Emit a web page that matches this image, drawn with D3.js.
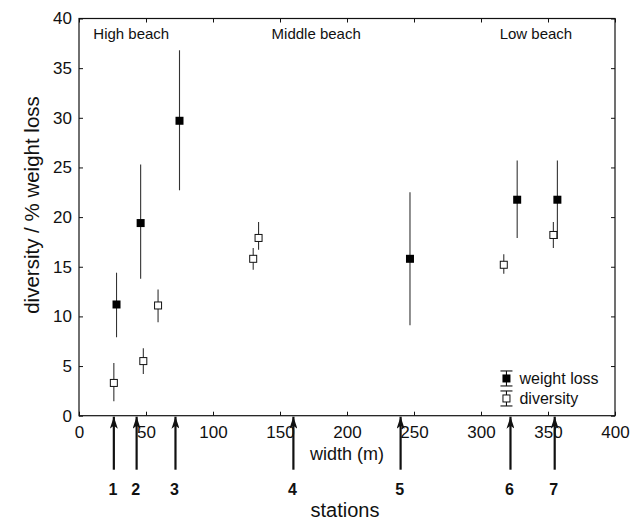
<!DOCTYPE html>
<html>
<head>
<meta charset="utf-8">
<script src="https://d3js.org/d3.v7.min.js"></script>
<style>
  body { margin: 0; background: #fff; }
  text { font-family: "Liberation Sans", Arial, sans-serif; fill: #111; }
</style>
</head>
<body>
<div id="chart"></div>
<script>
// weight loss (filled squares): x position, mean, lower, upper
var lossX   = [28, 46, 75, 247, 327, 357];
var lossY   = [11.2, 19.4, 29.7, 15.8, 21.75, 21.75];
var lossLo  = [7.9, 13.8, 22.7, 9.1, 17.9, 17.8];
var lossHi  = [14.4, 25.3, 36.8, 22.5, 25.7, 25.7];

// diversity (open squares)
var divX    = [26, 48, 59, 130, 134, 317, 354];
var divY    = [3.3, 5.5, 11.1, 15.8, 17.9, 15.2, 18.2];
var divLo   = [1.45, 4.2, 9.4, 14.7, 16.7, 14.3, 16.9];
var divHi   = [5.3, 6.8, 12.7, 16.9, 19.5, 16.25, 19.5];

// sampling stations (arrows under the axis)
var stationX     = [26, 43, 72, 160, 240, 322, 355];
var stationLabel = ["1", "2", "3", "4", "5", "6", "7"];

// beach zones
var zoneLabel = ["High beach", "Middle beach", "Low beach"];
var zoneX     = [39, 177, 341];

var xTicks = [0, 50, 100, 150, 200, 250, 300, 350, 400];
var yTicks = [0, 5, 10, 15, 20, 25, 30, 35, 40];

var W = 642, H = 522;
var margin = {top: 18.5, right: 27, bottom: 106.3, left: 79};
var width = W - margin.left - margin.right,
    height = H - margin.top - margin.bottom;

var svg = d3.select("#chart").append("svg")
    .attr("width", W).attr("height", H);
var g = svg.append("g")
    .attr("transform", "translate(" + margin.left + "," + margin.top + ")");

var x = d3.scaleLinear().domain([0, 400]).range([0, width]);
var y = d3.scaleLinear().domain([0, 40]).range([height, 0]);

// axes, ticks pointing inwards
function styleAxis(sel) {
  sel.select(".domain").remove();
  sel.selectAll(".tick line").attr("stroke", "#111");
  sel.selectAll(".tick text").style("font-size", "17px").attr("fill", "#111");
}
g.append("g").attr("transform", "translate(0," + height + ")")
  .call(d3.axisBottom(x).tickValues(xTicks).tickSizeInner(-4).tickSizeOuter(0).tickPadding(8))
  .call(styleAxis)
  .selectAll(".tick text").attr("dy", "0.71em").attr("y", 10);
g.append("g")
  .call(d3.axisLeft(y).tickValues(yTicks).tickSizeInner(-4).tickSizeOuter(0).tickPadding(7))
  .call(styleAxis);
g.append("g")
  .call(d3.axisTop(x).tickValues(xTicks).tickSizeInner(-4).tickSizeOuter(0).tickFormat(""))
  .call(styleAxis);
g.append("g").attr("transform", "translate(" + width + ",0)")
  .call(d3.axisRight(y).tickValues(yTicks).tickSizeInner(-4).tickSizeOuter(0).tickFormat(""))
  .call(styleAxis);

g.append("rect")
  .attr("width", width).attr("height", height)
  .attr("fill", "none").attr("stroke", "#111").attr("stroke-width", 1.2);

// zone labels
g.selectAll(".zone").data(zoneLabel).enter().append("text")
  .attr("x", function(d, i) { return x(zoneX[i]); })
  .attr("y", 20.8)
  .attr("text-anchor", "middle")
  .style("font-size", "15px")
  .text(function(d) { return d; });

// error bars
function bars(xs, lo, hi) {
  g.append("g").selectAll("line").data(xs).enter().append("line")
    .attr("x1", function(d) { return x(d); })
    .attr("x2", function(d) { return x(d); })
    .attr("y1", function(d, i) { return y(lo[i]); })
    .attr("y2", function(d, i) { return y(hi[i]); })
    .attr("stroke", "#333").attr("stroke-width", 1.1);
}
bars(lossX, lossLo, lossHi);
bars(divX, divLo, divHi);

var s = 8;
g.append("g").selectAll("rect").data(divX).enter().append("rect")
  .attr("x", function(d) { return x(d) - s / 2 + 0.5; })
  .attr("y", function(d, i) { return y(divY[i]) - s / 2 + 0.5; })
  .attr("width", s - 1).attr("height", s - 1)
  .attr("fill", "#fff").attr("stroke", "#111").attr("stroke-width", 1);
g.append("g").selectAll("rect").data(lossX).enter().append("rect")
  .attr("x", function(d) { return x(d) - s / 2; })
  .attr("y", function(d, i) { return y(lossY[i]) - s / 2; })
  .attr("width", s).attr("height", s)
  .attr("fill", "#000");

// legend
var lg = g.append("g").attr("transform", "translate(" + x(319) + "," + y(3.75) + ")");
var legendItems = ["weight loss", "diversity"];
legendItems.forEach(function(name, i) {
  var cy = i * 20;
  var row = lg.append("g").attr("transform", "translate(0," + cy + ")");
  row.append("line").attr("x1", 0).attr("x2", 0).attr("y1", -7.5).attr("y2", 7.5)
    .attr("stroke", "#111").attr("stroke-width", 1.1);
  [-7.5, 7.5].forEach(function(v) {
    row.append("line").attr("x1", -6).attr("x2", 6).attr("y1", v).attr("y2", v)
      .attr("stroke", "#111").attr("stroke-width", 1.1);
  });
  if (i === 0) {
    row.append("rect").attr("x", -4).attr("y", -4).attr("width", 8).attr("height", 8).attr("fill", "#000");
  } else {
    row.append("rect").attr("x", -3.5).attr("y", -3.5).attr("width", 7).attr("height", 7)
      .attr("fill", "#fff").attr("stroke", "#111");
  }
  row.append("text").attr("x", 13).attr("y", 5.5)
    .style("font-size", "16px").text(name);
});

// station arrows
svg.append("defs").append("marker")
  .attr("id", "head").attr("viewBox", "0 0 8 12")
  .attr("refX", 4).attr("refY", 0)
  .attr("markerWidth", 8).attr("markerHeight", 12)
  .attr("markerUnits", "userSpaceOnUse")
  .attr("orient", "0")
  .append("path").attr("d", "M0,12 L4,0 L8,12 L4,9 Z").attr("fill", "#111");

g.append("g").selectAll("line").data(stationX).enter().append("line")
  .attr("x1", function(d) { return x(d); })
  .attr("x2", function(d) { return x(d); })
  .attr("y1", height + 54)
  .attr("y2", height + 1)
  .attr("stroke", "#111").attr("stroke-width", 2.2)
  .attr("marker-end", "url(#head)");

g.append("g").selectAll("text").data(stationLabel).enter().append("text")
  .attr("x", function(d, i) { return x(stationX[i]) - 1; })
  .attr("y", height + 79.5)
  .attr("text-anchor", "middle")
  .style("font-size", "16px").style("font-weight", "bold")
  .text(function(d) { return d; });

// axis titles
g.append("text")
  .attr("x", width / 2).attr("y", height + 44.5)
  .attr("text-anchor", "middle")
  .style("font-size", "18px")
  .text("width (m)");
g.append("text")
  .attr("x", width / 2 - 2).attr("y", height + 101)
  .attr("text-anchor", "middle")
  .style("font-size", "20px")
  .text("stations");
svg.append("text")
  .attr("transform", "translate(39," + 205 + ") rotate(-90)")
  .attr("text-anchor", "middle")
  .style("font-size", "20.5px")
  .text("diversity / % weight loss");
</script>
</body>
</html>
